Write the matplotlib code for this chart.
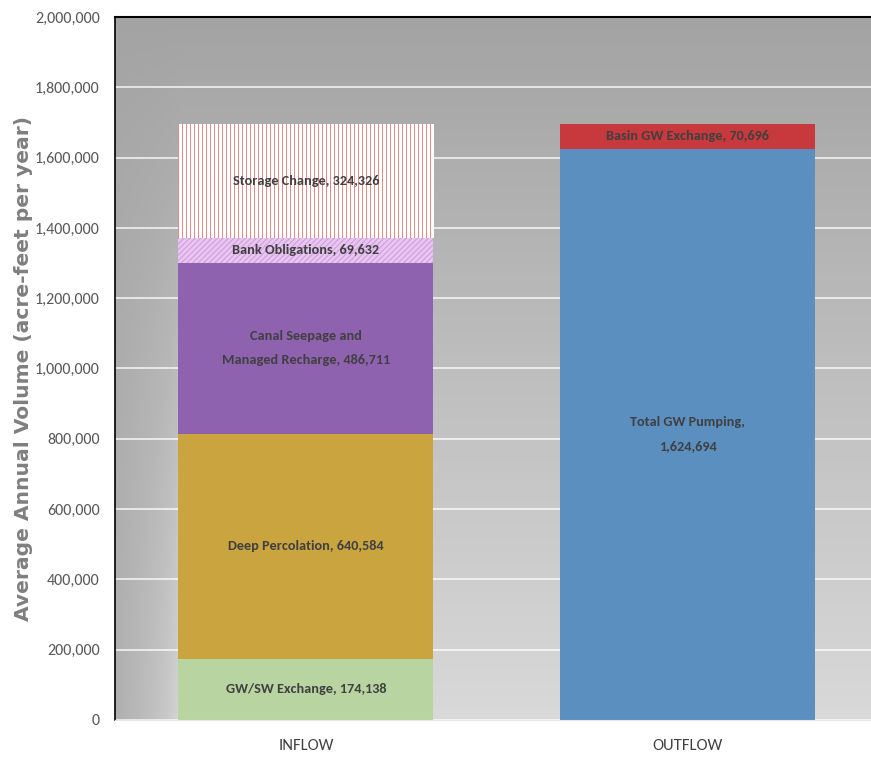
import numpy as np
import matplotlib
matplotlib.use('Agg')
import matplotlib.pyplot as plt
from matplotlib.ticker import FuncFormatter
from matplotlib.colors import to_rgb

# --- data ---
categories = ['INFLOW', 'OUTFLOW']

inflow_labels = ['GW/SW Exchange', 'Deep Percolation',
                 'Canal Seepage and\nManaged Recharge', 'Bank Obligations',
                 'Storage Change']
inflow_values = [174138, 640584, 486711, 69632, 324326]

outflow_labels = ['Total GW Pumping', 'Basin GW Exchange']
outflow_values = [1624694, 70696]

# --- styles ---
inflow_colors = ['#b7d4a1', '#c9a43f', '#8f62b0', '#e9c6f1', '#ffffff']
# 'stripes' = thin vertical red lines, drawn as a texture clipped to the bar
inflow_hatch = [None, None, None, '//////', 'stripes']
inflow_hatch_colors = [None, None, None, '#cf9fdd', '#e38a8a']
outflow_colors = ['#5b8fc0', '#c7393c']

NARROW = ['Carlito', 'Roboto Condensed', 'Archivo Narrow', 'DejaVu Sans']
plt.rcParams['hatch.linewidth'] = 0.8

fig = plt.figure(figsize=(8.71, 7.59), dpi=100)
ax = fig.add_axes([0.132, 0.0514, 0.868, 0.9262])

# gray gradient background: darker at the top and along the left edge
nx, ny = 400, 300
xx, yy = np.meshgrid(np.linspace(0, 1, nx), np.linspace(1, 0, ny))
shade = 0.64 + 0.21 * (1 - yy)
shade -= 0.16 * np.clip(1 - xx / 0.085, 0, 1) ** 0.6 * (1 - yy) ** 1.2
bg = np.dstack([shade, shade, shade])
ax.imshow(bg, extent=(0, 1, 0, 1), transform=ax.transAxes, aspect='auto',
          zorder=0, interpolation='bilinear')

ax.yaxis.set_major_locator(plt.MultipleLocator(200000))
ax.yaxis.grid(True, color='white', linewidth=1.4, alpha=0.7, zorder=1)
ax.set_axisbelow(True)

width = 0.668
x_in, x_out = 0, 1


def striped_bar(x, val, bottom, face, line_color, n_stripes=64):
    bar = ax.bar(x, val, width, bottom=bottom, color=face, linewidth=0, zorder=2)[0]
    period = np.array([to_rgb(line_color)] + [to_rgb(face)] * 3)
    tex = np.tile(period, (n_stripes, 1))[np.newaxis, :, :]
    im = ax.imshow(tex, extent=(bar.get_x(), bar.get_x() + bar.get_width(),
                                bar.get_y(), bar.get_y() + bar.get_height()),
                   aspect='auto', interpolation='nearest', zorder=2.1)
    im.set_clip_path(bar)
    return bar


bottom = 0
for lab, val, col, h, hc in zip(inflow_labels, inflow_values, inflow_colors,
                                inflow_hatch, inflow_hatch_colors):
    if h == 'stripes':
        striped_bar(x_in, val, bottom, col, hc)
    elif h:
        ax.bar(x_in, val, width, bottom=bottom, color=col, edgecolor=hc,
               linewidth=0, hatch=h, zorder=2)
    else:
        ax.bar(x_in, val, width, bottom=bottom, color=col, linewidth=0, zorder=2)
    ax.text(x_in, bottom + val / 2, f'{lab}, {val:,}', ha='center', va='center',
            fontsize=10.3, fontweight='bold', color='#404040', family=NARROW,
            linespacing=2.2, zorder=3)
    bottom += val

bottom = 0
for i, (lab, val, col) in enumerate(zip(outflow_labels, outflow_values, outflow_colors)):
    ax.bar(x_out, val, width, bottom=bottom, color=col, linewidth=0, zorder=2)
    txt = f'{lab},\n{val:,}' if i == 0 else f'{lab}, {val:,}'
    ax.text(x_out, bottom + val / 2, txt, ha='center', va='center',
            fontsize=10.3, fontweight='bold', color='#404040', family=NARROW,
            linespacing=2.2, zorder=3)
    bottom += val

ax.set_xlim(-0.5, 1.48)
ax.set_ylim(0, 2000000)

ax.set_xticks([x_in, x_out])
ax.set_xticklabels(categories, family=NARROW, fontsize=12, color='#404040')
ax.tick_params(axis='x', length=0, pad=14)
ax.tick_params(axis='y', length=0, pad=11, labelsize=11.5, labelcolor='#595959')
for t in ax.get_yticklabels():
    t.set_family(NARROW)
ax.yaxis.set_major_formatter(FuncFormatter(lambda v, p: f'{int(v):,}'))

ax.set_ylabel('Average Annual Volume (acre-feet per year)', fontsize=14.6,
              fontweight='bold', color='#7f7f7f', family='DejaVu Sans')
ax.yaxis.set_label_coords(-0.108, 0.5)

ax.spines['top'].set_color('black')
ax.spines['top'].set_linewidth(1.5)
ax.spines['left'].set_color('black')
ax.spines['left'].set_linewidth(1.2)
ax.spines['right'].set_visible(False)
ax.spines['bottom'].set_color('#e8e8e8')

fig.savefig('out.png', dpi=100)
